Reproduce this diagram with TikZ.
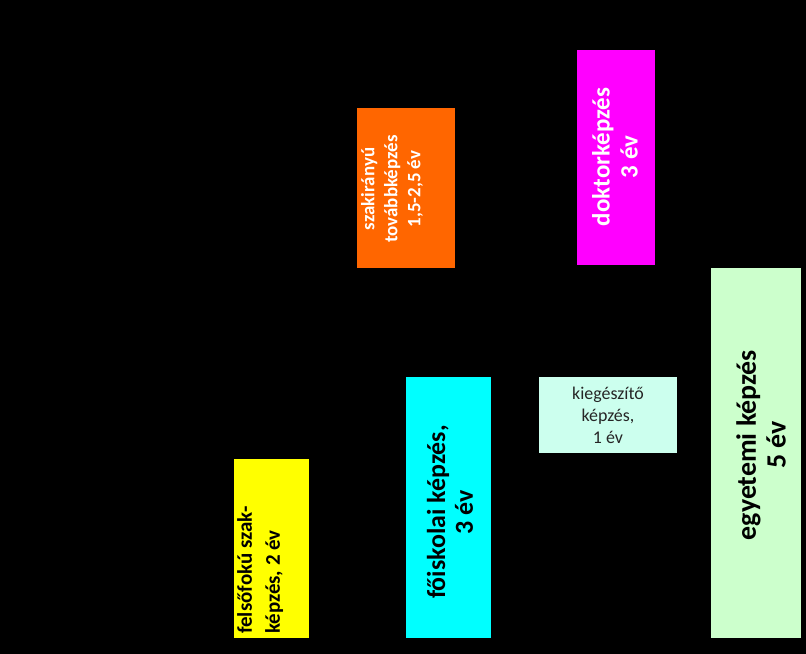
\documentclass[tikz,border=0pt]{standalone}
\usepackage{fontspec}
\setmainfont{Carlito}
\begin{document}
\begin{tikzpicture}[x=1bp,y=-1bp,
  lbl/.style={rotate=90,align=center,inner sep=0pt,font=\bfseries}]
\definecolor{orng}{HTML}{FF6600}
\definecolor{mint}{HTML}{CCFFEE}
\definecolor{lgreen}{HTML}{CCFFCC}
\definecolor{ylw}{HTML}{FFFF00}
\definecolor{cyn}{HTML}{00FFFF}
\definecolor{mgnt}{HTML}{FF00FF}
\fill[black] (0,0) rectangle (806,654);
\useasboundingbox (0,0) rectangle (806,654);
% boxes
\fill[ylw] (234,459) rectangle (309,638);
\fill[orng] (357,108) rectangle (455,268);
\fill[cyn] (406,377) rectangle (491,638);
\fill[mint] (539,377) rectangle (677,453);
\fill[mgnt] (577,50) rectangle (655,265);
\fill[lgreen] (711,268) rectangle (801,638);
% labels
\node[lbl,anchor=north west,align=left,font=\bfseries\fontsize{21}{28}\selectfont] (felso) at (237,634) {felsőfokú szak-\\képzés, 2 év};
\node[lbl,text=white,font=\bfseries\fontsize{19}{23}\selectfont] (tovabb) at (392,189) {szakirányú\\továbbképzés\\1,5-2,5 év};
\node[lbl,font=\bfseries\fontsize{26}{28}\selectfont] (foiskola) at (450,512) {főiskolai képzés,\\3 év};
\node[align=center,inner sep=0pt,text=black!85,font=\fontsize{18}{22}\selectfont] (kieg) at (608,415) {kiegészítő\\képzés,\\1 év};
\node[lbl,text=white,font=\bfseries\fontsize{25}{28}\selectfont] (doktor) at (615,157) {doktorképzés\\3 év};
\node[lbl,font=\bfseries\fontsize{28}{30}\selectfont] (egyetem) at (761,445) {egyetemi képzés\\5 év};
\end{tikzpicture}
\end{document}
